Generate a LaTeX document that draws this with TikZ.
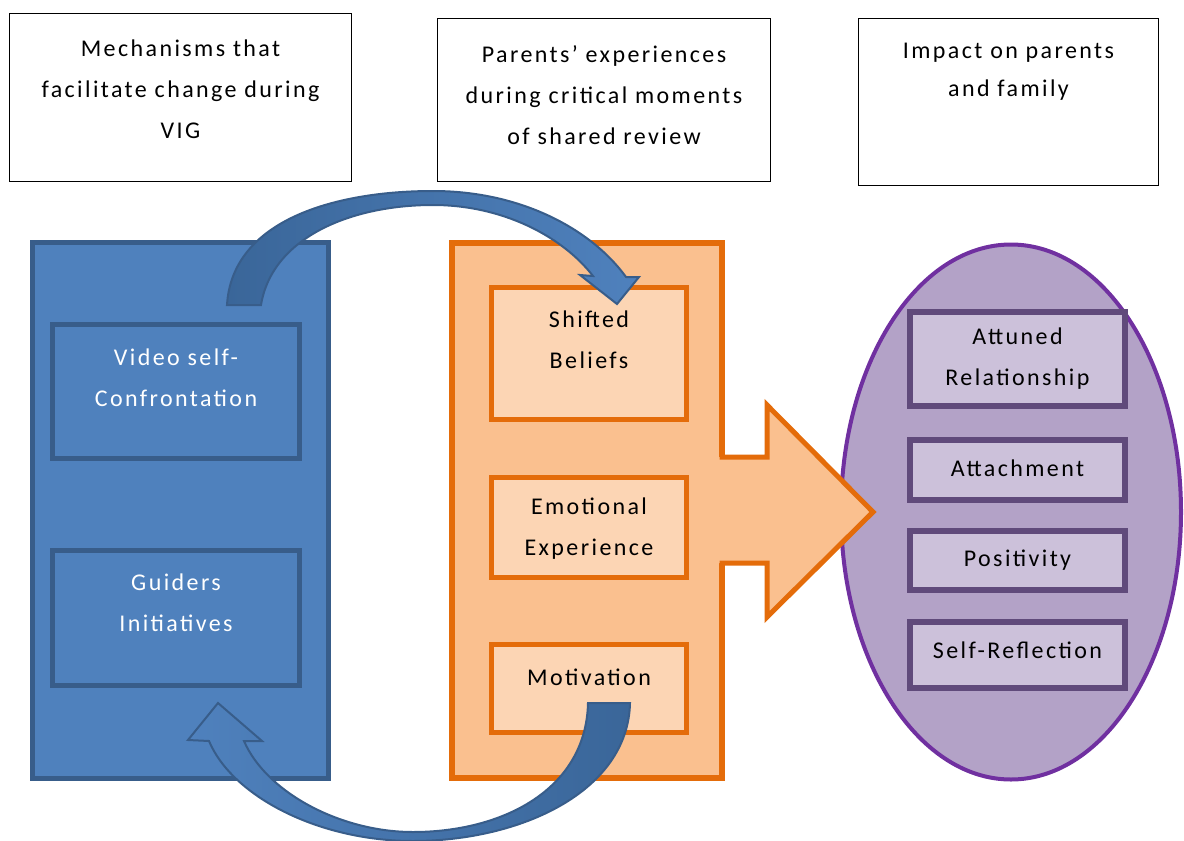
\documentclass[tikz,border=0pt]{standalone}
\usepackage{fontspec}
\setmainfont{Carlito}[LetterSpace=10]
\usetikzlibrary{shapes.geometric}
\definecolor{bfill}{HTML}{4F81BD}
\definecolor{bdraw}{HTML}{385D8A}
\definecolor{bdark}{HTML}{3A6699}
\definecolor{ofill}{HTML}{FAC08F}
\definecolor{oinner}{HTML}{FCD5B4}
\definecolor{odraw}{HTML}{E46C0A}
\definecolor{pfill}{HTML}{B3A2C7}
\definecolor{pdraw}{HTML}{7030A0}
\definecolor{pinner}{HTML}{CCC1DA}
\definecolor{pbdraw}{HTML}{604A7B}
\tikzset{
  topbox/.style={draw=black, line width=1.5pt, fill=white, inner sep=0pt},
  bluebox/.style={draw=bdraw, line width=5pt, fill=bfill, inner sep=0pt},
  orbox/.style={draw=odraw, line width=5pt, fill=oinner, inner sep=0pt},
  orouter/.style={draw=odraw, line width=6pt, fill=ofill, inner sep=0pt},
  purbox/.style={draw=pbdraw, line width=6pt, fill=pinner, inner sep=0pt},
  txt/.style={align=center, inner sep=0pt, font=\fontsize{24}{41}\selectfont, text=black},
  wtxt/.style={txt, text=white},
  curvarrow/.style={draw=bdraw, line width=2pt},
}
\begin{document}
\begin{tikzpicture}[x=1pt, y=-1pt]
\useasboundingbox (0,0) rectangle (1184,841);
% top header boxes
\node[topbox, minimum width=342pt, minimum height=168pt] (top1) at (180.5,97.5) {};
\node[txt] (top1t) at ([yshift=8pt]top1.center) {Mechanisms that\\facilitate change during\\VIG};
\node[topbox, minimum width=333pt, minimum height=163pt] (top2) at (604,100) {};
\node[txt] (top2t) at ([yshift=5pt]top2.center) {Parents’ experiences\\during critical moments\\of shared review};
\node[topbox, minimum width=300pt, minimum height=167pt] (top3) at (1008.5,102) {};
\node[txt, font=\fontsize{24}{38}\selectfont] (top3t) at ([yshift=30pt]top3.center) {Impact on parents\\and family};
% blue column
\node[bluebox, minimum width=296pt, minimum height=536pt] (blue) at (180.5,510.5) {};
\node[bluebox, minimum width=247pt, minimum height=134pt] (vsc) at (176,391.5) {};
\node[wtxt] (vsct) at ([yshift=14pt]vsc.center) {Video self-\\Confrontation};
\node[bluebox, minimum width=247pt, minimum height=135pt] (gi) at (176,618) {};
\node[wtxt] (git) at ([yshift=15pt]gi.center) {Guiders\\Initiatives};
% orange column
\node[orouter, minimum width=270pt, minimum height=535pt] (orange) at (587,510.5) {};
% ellipse
\node[ellipse, draw=pdraw, line width=4pt, fill=pfill, minimum width=340pt, minimum height=535pt, inner sep=0pt] (ell) at (1011,512) {};
% block arrow
\fill[ofill] (712,457) -- (767,457) -- (767,405) -- (873,512) -- (767,617) -- (767,563) -- (712,563) -- cycle;
\draw[odraw, line width=5pt, line join=miter] (722,420) -- (722,457) -- (767,457) -- (767,405) -- (873,512) -- (767,617) -- (767,563) -- (722,563) -- (722,600);
\node[orbox, minimum width=195pt, minimum height=132pt] (sb) at (589,353.5) {};
\node[txt] (sbt) at ([yshift=14pt]sb.center) {Shifted\\Beliefs};
\node[orbox, minimum width=195pt, minimum height=100pt] (ee) at (589,527.5) {};
\node[txt] (eet) at ([yshift=-1pt]ee.center) {Emotional\\Experience};
\node[orbox, minimum width=195pt, minimum height=88pt] (mot) at (589,688.5) {};
\node[txt] (mott) at ([yshift=11.5pt]mot.center) {Motivation};
% purple boxes
\node[purbox, minimum width=215pt, minimum height=94pt] (ar) at (1017.5,359) {};
\node[txt] (art) at (ar.center) {Attuned\\Relationship};
\node[purbox, minimum width=215pt, minimum height=60pt] (att) at (1017.5,470) {};
\node[txt] (attt) at ([yshift=2pt]att.center) {Attachment};
\node[purbox, minimum width=215pt, minimum height=59pt] (pos) at (1017.5,560.5) {};
\node[txt] (post) at (pos.center) {Positivity};
\node[purbox, minimum width=215pt, minimum height=66pt] (sr) at (1017.5,655) {};
\node[txt] (srt) at ([yshift=5pt]sr.center) {Self-Reflection};
% top curved arrow (from blue column to Shifted Beliefs)
\draw[curvarrow, left color=bdark, right color=bfill]
  (227,305) .. controls (232,220) and (335,191) .. (433,191)
  .. controls (522,191) and (592,230) .. (626,277)
  -- (639,277) -- (617,304) -- (580,275) -- (593,276)
  .. controls (562,236) and (502,205) .. (433,205)
  .. controls (350,205) and (272,238) .. (261,305) -- cycle;
% bottom curved arrow (from Motivation back to blue column)
\draw[curvarrow, left color=bfill, right color=bdark]
  (588,703) -- (630,703)
  .. controls (628,792) and (520,841) .. (413,841)
  .. controls (318,841) and (232,796) .. (209,741)
  -- (188,740) -- (218,703) -- (262,741) -- (244,741)
  .. controls (266,792) and (340,832) .. (413,832)
  .. controls (502,832) and (586,790) .. (588,703) -- cycle;
\end{tikzpicture}
\end{document}
